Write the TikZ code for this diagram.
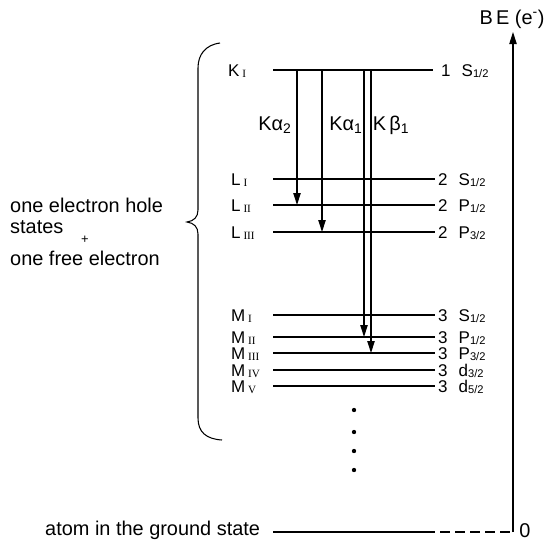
\documentclass[tikz,border=0pt]{standalone}
\usepackage{fontspec}
\setmainfont{Liberation Sans}
\newfontfamily\romfont{Liberation Serif}
\usetikzlibrary{positioning, arrows.meta}

% low, small subscripts for the shell and orbital names
\newcommand{\rsub}[1]{\,\raisebox{-0.08em}{\romfont\fontsize{9.5}{10}\selectfont #1}}
\newcommand{\tsub}[1]{\raisebox{-0.08em}{\fontsize{9.5}{10}\selectfont #1}}

\begin{document}
\begin{tikzpicture}[
  x=0.3mm, y=-0.3mm,
  level/.style = {line width=0.9pt},
  xray/.style = {line width=1.1pt, -{Triangle[length=3.6mm, width=2.2mm]}},
  axis/.style = {line width=0.9pt, -{Triangle[length=3.6mm, width=2.2mm]}},
  lbl/.style = {font=\fontsize{14.5}{17}\selectfont, inner sep=0pt, anchor=base west, yshift=-1.8mm},
  txt/.style = {font=\fontsize{17}{20}\selectfont, inner sep=0pt}
  ]
\useasboundingbox (0,0) rectangle (544,541);

% energy levels
\coordinate (K-l) at (273,70);   \coordinate (K-r) at (433,70);
\coordinate (L1-l) at (273,179); \coordinate (L1-r) at (435,179);
\coordinate (L2-l) at (273,205); \coordinate (L2-r) at (435,205);
\coordinate (L3-l) at (273,232); \coordinate (L3-r) at (435,232);
\coordinate (M1-l) at (273,315); \coordinate (M1-r) at (435,315);
\coordinate (M2-l) at (273,337); \coordinate (M2-r) at (435,337);
\coordinate (M3-l) at (273,353); \coordinate (M3-r) at (435,353);
\coordinate (M4-l) at (273,370); \coordinate (M4-r) at (435,370);
\coordinate (M5-l) at (273,386); \coordinate (M5-r) at (435,386);

\draw[level] (K-l) -- (K-r);
\draw[level] (L1-l) -- (L1-r);
\draw[level] (L2-l) -- (L2-r);
\draw[level] (L3-l) -- (L3-r);
\draw[level] (M1-l) -- (M1-r);
\draw[level] (M2-l) -- (M2-r);
\draw[level] (M3-l) -- (M3-r);
\draw[level] (M4-l) -- (M4-r);
\draw[level] (M5-l) -- (M5-r);

% shell names
\node[lbl] (kname) at (228,70) {K\rsub{I}};
\node[lbl] (l1name) at (231,179) {L\rsub{I}};
\node[lbl] (l2name) at (231,205) {L\rsub{II}};
\node[lbl] (l3name) at (231,232) {L\rsub{III}};
\node[lbl] (m1name) at (231,315) {M\rsub{I}};
\node[lbl] (m2name) at (231,337) {M\rsub{II}};
\node[lbl] (m3name) at (231,353) {M\rsub{III}};
\node[lbl] (m4name) at (231,370) {M\rsub{IV}};
\node[lbl] (m5name) at (231,386) {M\rsub{V}};

% orbitals
\node[lbl] (kterm) at (441,70) {1\hspace{0.65em}S\tsub{1/2}};
\node[lbl] (l1term) at (438,179) {2\hspace{0.65em}S\tsub{1/2}};
\node[lbl] (l2term) at (438,205) {2\hspace{0.65em}P\tsub{1/2}};
\node[lbl] (l3term) at (438,232) {2\hspace{0.65em}P\tsub{3/2}};
\node[lbl] (m1term) at (438,315) {3\hspace{0.65em}S\tsub{1/2}};
\node[lbl] (m2term) at (438,337) {3\hspace{0.65em}P\tsub{1/2}};
\node[lbl] (m3term) at (438,353) {3\hspace{0.65em}P\tsub{3/2}};
\node[lbl] (m4term) at (438,370) {3\hspace{0.65em}d\tsub{3/2}};
\node[lbl] (m5term) at (438,386) {3\hspace{0.65em}d\tsub{5/2}};

% transitions
\coordinate (ka2) at (297,70);
\coordinate (ka1) at (322,70);
\coordinate (kb1a) at (364,70);
\coordinate (kb1b) at (371,70);
\draw[xray] (ka2) -- (ka2 |- L2-l);
\draw[xray] (ka1) -- (ka1 |- L3-l);
\draw[xray] (kb1a) -- (kb1a |- M2-l);
\draw[xray] (kb1b) -- (kb1b |- M3-l);

\node[txt] (ka2name) at (275,125) {Kα\textsubscript{2}};
\node[txt] (ka1name) at (346,125) {Kα\textsubscript{1}};
\node[txt] (kb1name) at (391,125) {K\,β\textsubscript{1}};

% higher shells
\foreach \y in {410,432,451,470}
  \fill (354,\y) circle (0.65mm);

% brace
\draw[level] (220,43) .. controls (205,45) and (198,55) .. (198,68) -- (198,210)
  .. controls (198,217) and (194,221) .. (187,222)
  .. controls (194,223) and (198,227) .. (198,234) -- (198,418)
  .. controls (198,432) and (206,439) .. (222,440);

\node[txt, anchor=base west] (hole) at (10,212) {one electron hole};
\node[txt, anchor=base west] (states) at (10,233) {states};
\node[font=\fontsize{11}{12}\selectfont, inner sep=0pt] (plus) at (85,240) {+};
\node[txt, anchor=base west] (free) at (10,265) {one free electron};

% ground state and axis
\coordinate (origin) at (513,532);
\coordinate (top) at (513,32);
\coordinate (g-start) at (273,532);
\coordinate (g-end) at (425,532);
\node[txt, anchor=base west] (ground) at (45,535) {atom in the ground state};
\draw[level] (g-start) -- (g-end);
\draw[level, dash pattern=on 3mm off 1.5mm] (g-end) -- (origin);
\draw[axis] (origin) -- (top);
\node[txt] (zero) at (525,531) {0};
\node[txt] (be) at (512,19) {B\,E (e\textsuperscript{-})};

\end{tikzpicture}
\end{document}
